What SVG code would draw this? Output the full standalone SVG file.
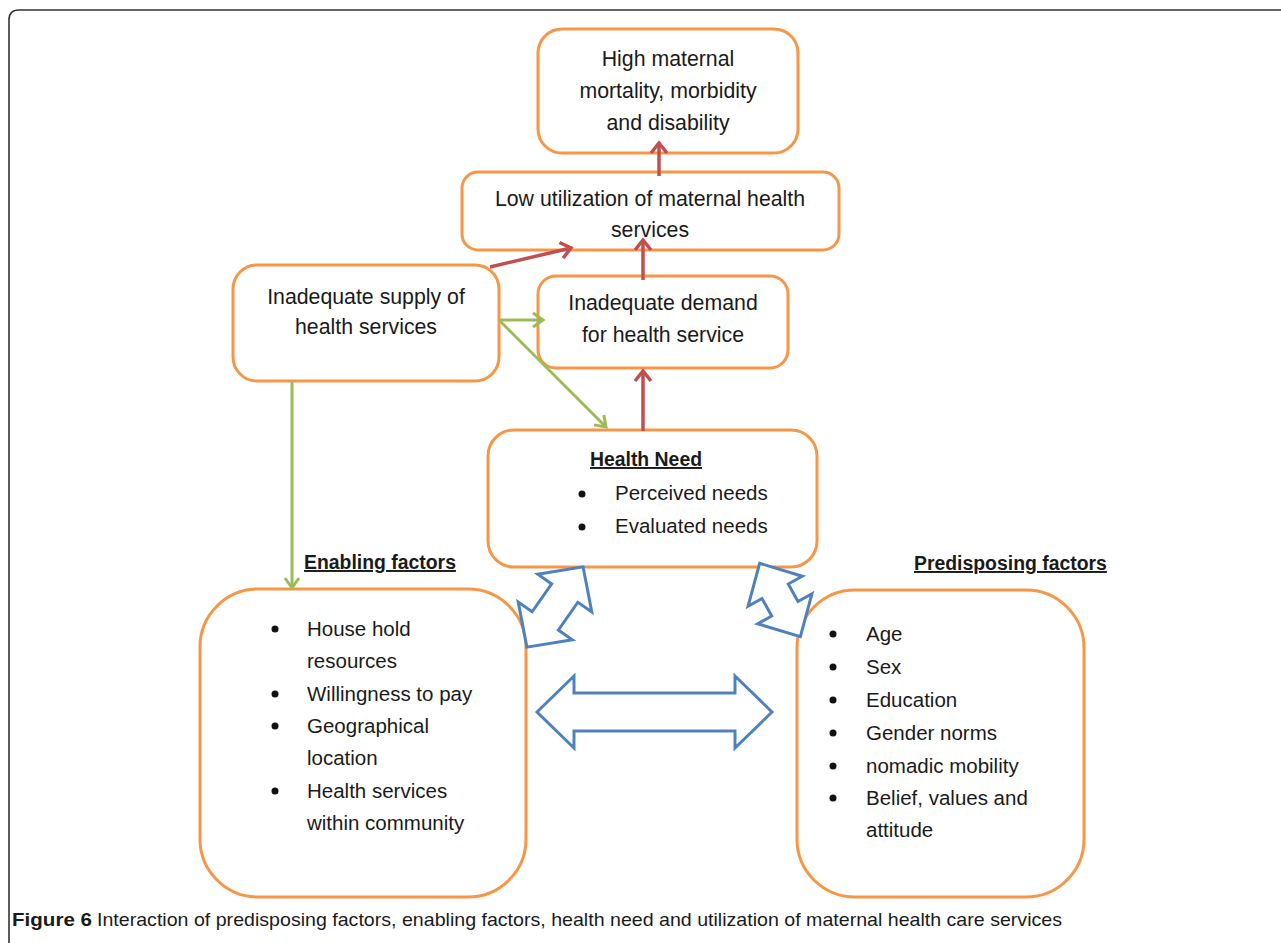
<svg xmlns="http://www.w3.org/2000/svg" width="1281" height="943" viewBox="0 0 1281 943">
<style>
.box{fill:#fff;stroke:#f79646;stroke-width:3}
.t{font-family:"Liberation Sans",Arial,sans-serif;font-size:20.5px;fill:#1a1a1a}
.h{font-size:21.3px}
.c{text-anchor:middle}
.b{font-weight:bold;text-decoration:underline;font-size:19.4px}
.red{stroke:#c0504d;stroke-width:3.5;fill:none}
.grn{stroke:#9bbb59;stroke-width:3;fill:none}
.blk{fill:#fff;stroke:#4f81bd;stroke-width:3;stroke-linejoin:miter}
.cap{font-family:"Liberation Sans Narrow","Liberation Sans",Arial,sans-serif;font-size:19px;fill:#1a1a1a}
</style>
<defs>
<marker id="ar" markerUnits="userSpaceOnUse" markerWidth="24" markerHeight="24" viewBox="-12 -12 24 24" refX="0" refY="0" orient="auto">
<path d="M-10,-8 L0,0 L-10,8" fill="none" stroke="#c0504d" stroke-width="3.5"/>
</marker>
<marker id="ag" markerUnits="userSpaceOnUse" markerWidth="24" markerHeight="24" viewBox="-12 -12 24 24" refX="0" refY="0" orient="auto">
<path d="M-10,-7 L0,0 L-10,7" fill="none" stroke="#9bbb59" stroke-width="3"/>
</marker>
</defs>
<rect width="1281" height="943" fill="#fff"/>
<path d="M9,943 V20 Q9,10 19,10 H1281" fill="none" stroke="#333" stroke-width="1.6"/>

<g id="n-outcome">
<rect class="box" x="538" y="29" width="260" height="124" rx="24"/>
<text class="t h c" x="668" y="66">High maternal</text>
<text class="t h c" x="668" y="98">mortality, morbidity</text>
<text class="t h c" x="668" y="130">and disability</text>
</g>
<g id="n-utilization">
<rect class="box" x="462" y="172" width="377" height="78" rx="16"/>
<text class="t h c" x="650" y="206">Low utilization of maternal health</text>
<text class="t h c" x="650" y="237">services</text>
</g>
<g id="n-supply">
<rect class="box" x="233" y="265" width="266" height="116" rx="24"/>
<text class="t h c" x="366" y="304">Inadequate supply of</text>
<text class="t h c" x="366" y="334">health services</text>
</g>
<g id="n-demand">
<rect class="box" x="538" y="276" width="250" height="92" rx="18"/>
<text class="t h c" x="663" y="310">Inadequate demand</text>
<text class="t h c" x="663" y="342">for health service</text>
</g>
<g id="n-need">
<rect class="box" x="488" y="430" width="329" height="137" rx="26"/>
<text class="t c b" x="646" y="466">Health Need</text>
<circle cx="582" cy="494" r="3.5" fill="#111"/>
<text class="t" x="615" y="500">Perceived needs</text>
<circle cx="582" cy="527" r="3.5" fill="#111"/>
<text class="t" x="615" y="533">Evaluated needs</text>
</g>
<g id="n-enabling">
<text class="t b" x="304" y="569">Enabling factors</text>
<rect class="box" x="200" y="589" width="326" height="308" rx="58"/>
<circle cx="275" cy="629" r="3.5" fill="#111"/>
<text class="t" x="307" y="636">House hold</text>
<text class="t" x="307" y="668">resources</text>
<circle cx="275" cy="694" r="3.5" fill="#111"/>
<text class="t" x="307" y="701">Willingness to pay</text>
<circle cx="275" cy="726" r="3.5" fill="#111"/>
<text class="t" x="307" y="733">Geographical</text>
<text class="t" x="307" y="765">location</text>
<circle cx="275" cy="791" r="3.5" fill="#111"/>
<text class="t" x="307" y="798">Health services</text>
<text class="t" x="307" y="830">within community</text>
</g>
<g id="n-predisposing">
<text class="t b" x="914" y="570">Predisposing factors</text>
<rect class="box" x="797" y="590" width="287" height="307" rx="58"/>
<circle cx="833" cy="634" r="3.5" fill="#111"/>
<text class="t" x="866" y="641">Age</text>
<circle cx="833" cy="667" r="3.5" fill="#111"/>
<text class="t" x="866" y="674">Sex</text>
<circle cx="833" cy="700" r="3.5" fill="#111"/>
<text class="t" x="866" y="707">Education</text>
<circle cx="833" cy="733" r="3.5" fill="#111"/>
<text class="t" x="866" y="740">Gender norms</text>
<circle cx="833" cy="766" r="3.5" fill="#111"/>
<text class="t" x="866" y="773">nomadic mobility</text>
<circle cx="833" cy="798" r="3.5" fill="#111"/>
<text class="t" x="866" y="805">Belief, values and</text>
<text class="t" x="866" y="837">attitude</text>
</g>

<g id="connectors">
<line class="red" x1="659" y1="176" x2="659" y2="143" marker-end="url(#ar)"/>
<line class="red" x1="643" y1="280" x2="643" y2="240" marker-end="url(#ar)"/>
<line class="red" x1="490" y1="267" x2="571" y2="248" marker-end="url(#ar)"/>
<line class="red" x1="643" y1="431" x2="643" y2="371" marker-end="url(#ar)"/>
<line class="grn" x1="499" y1="320" x2="543" y2="320" marker-end="url(#ag)"/>
<line class="grn" x1="499" y1="320" x2="606" y2="427" marker-end="url(#ag)"/>
<line class="grn" x1="292" y1="382" x2="292" y2="588" marker-end="url(#ag)"/>
<polygon class="blk" transform="translate(654.5,712)" points="-117.5,0 -80.5,-36 -80.5,-19 80.5,-19 80.5,-36 117.5,0 80.5,36 80.5,19 -80.5,19 -80.5,36"/>
<polygon class="blk" transform="translate(555,607) rotate(-55)" points="-49,0 -17,-33 -17,-16 17,-16 17,-33 49,0 17,33 17,16 -17,16 -17,33"/>
<polygon class="blk" transform="translate(780,600) rotate(61)" points="-42,0 -10,-31 -10,-15 10,-15 10,-31 42,0 10,31 10,15 -10,15 -10,31"/>
</g>

<text class="cap" x="12" y="926" font-weight="bold" textLength="80" lengthAdjust="spacingAndGlyphs">Figure 6</text>
<text class="cap" x="97" y="926" textLength="965" lengthAdjust="spacingAndGlyphs">Interaction of predisposing factors, enabling factors, health need and utilization of maternal health care services</text>
</svg>
